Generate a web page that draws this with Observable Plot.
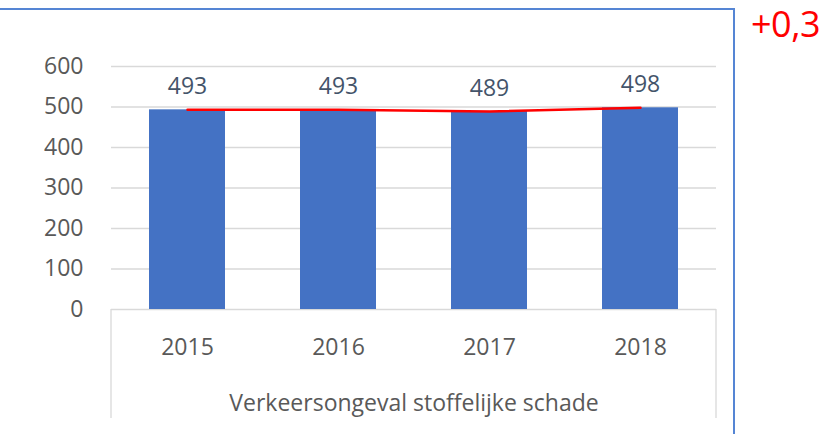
<!DOCTYPE html>
<html>
<head>
<meta charset="utf-8">
<script src="https://cdn.jsdelivr.net/npm/d3@7"></script>
<script src="https://cdn.jsdelivr.net/npm/@observablehq/plot@0.6"></script>
<style>
  html, body { margin: 0; padding: 0; background: #fff; overflow: hidden; }
  #wrap { position: relative; width: 823px; height: 434px; font-family: "Open Sans", sans-serif; }
  #frame { position: absolute; left: 0; top: 8px; width: 735px; height: 430px;
           border-top: 2px solid #5585D4; border-right: 2px solid #5585D4; box-sizing: border-box; }
  #delta { position: absolute; left: 751px; top: 1px; color: #FF0000; font-size: 36px; line-height: 46px; letter-spacing: -0.5px; }
  #chart { position: absolute; left: 0; top: 0; }
</style>
</head>
<body>
<div id="wrap">
  <div id="chart"></div>
  <div id="frame"></div>
  <div id="delta">+0,3</div>
</div>
<script>
const years = ["2015", "2016", "2017", "2018"];
const values = [493, 493, 489, 498];
const yTicks = [0, 100, 200, 300, 400, 500, 600];
const groupLabel = "Verkeersongeval stoffelijke schade";
const deltaLabel = "+0,3";

const data = years.map((year, i) => ({year, value: values[i]}));

const chart = Plot.plot({
  width: 823,
  height: 434,
  marginLeft: 111,
  marginRight: 107,
  marginTop: 66,
  marginBottom: 125,
  style: {fontFamily: "Open Sans, sans-serif", fontSize: "23px", background: "transparent"},
  x: {domain: years, paddingInner: 0.5, paddingOuter: 0.25},
  y: {domain: [0, 600]},
  marks: [
    Plot.ruleY(yTicks, {stroke: "#d9d9d9", strokeWidth: 1.3}),
    Plot.barY(data, {x: "year", y: "value", fill: "#4472C4"}),
    Plot.line(data, {x: "year", y: "value", stroke: "#FF0000", strokeWidth: 2.5}),
    Plot.text(data, {x: "year", y: "value", text: d => String(d.value), dy: -23, fill: "#44546A", lineAnchor: "middle"}),
    Plot.axisY(yTicks, {tickSize: 0, tickPadding: 28, label: null, color: "#595959", fontSize: 23}),
    Plot.axisX({tickSize: 0, tickPadding: 29, label: null, color: "#595959", fontSize: 23}),
    Plot.text([groupLabel], {frameAnchor: "bottom", lineAnchor: "middle", dy: 94, fill: "#595959", fontSize: 23})
  ]
});

// category box side lines, from the x scale range
const xr = chart.scale("x").range;
const y0 = chart.scale("y").apply(0);
const svg = d3.select(chart);
svg.append("g").selectAll("line").data(xr).join("line")
  .attr("x1", d => d).attr("x2", d => d)
  .attr("y1", y0).attr("y2", y0 + 109)
  .attr("stroke", "#d9d9d9").attr("stroke-width", 1.3);

document.getElementById("delta").textContent = deltaLabel;
document.getElementById("chart").appendChild(chart);
</script>
</body>
</html>
